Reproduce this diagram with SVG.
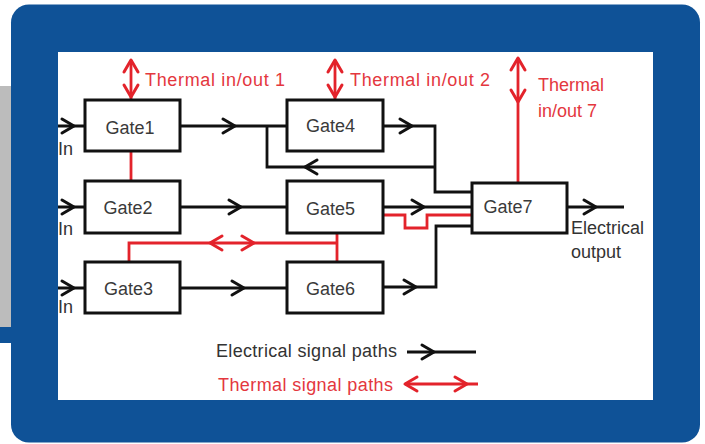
<svg xmlns="http://www.w3.org/2000/svg" xmlns:xlink="http://www.w3.org/1999/xlink" width="705" height="444" viewBox="0 0 705 444">
<style>
.box{fill:#fff;stroke:#111;stroke-width:3}
.el{fill:none;stroke:#111;stroke-width:2.8;stroke-linejoin:miter}
.th{fill:none;stroke:#e3232b;stroke-width:2.8}
.chk{fill:none;stroke:#111;stroke-width:3;stroke-linecap:round;stroke-linejoin:round}
.chr{fill:none;stroke:#e3232b;stroke-width:3;stroke-linecap:round;stroke-linejoin:round}
text{font-family:"Liberation Sans",Arial,sans-serif;font-size:18px}
.gt{fill:#3a3a3a;text-anchor:middle}
.dk{fill:#333}
.rd{fill:#e4373e}
</style>
<defs>
<path id="chev" d="M-12,-7 L0,0 L-12,7"/>
</defs>
<rect x="0" y="0" width="705" height="444" fill="#fff"/>
<rect x="0" y="86" width="14" height="241" fill="#bcbcbc"/>
<rect x="0" y="327" width="14" height="16" fill="#0f5297"/>
<rect x="11" y="4.5" width="689" height="438" rx="18" fill="#0f5297"/>
<rect x="58" y="52" width="595" height="348" fill="#fff"/>

<g id="connectors">
  <!-- inputs -->
  <path class="el" d="M58,126 H85 M58,207 H85 M58,288 H85"/>
  <use href="#chev" class="chk" transform="translate(74,126)"/>
  <use href="#chev" class="chk" transform="translate(74,207)"/>
  <use href="#chev" class="chk" transform="translate(74,288)"/>
  <!-- Gate1 -> Gate4 -->
  <path class="el" d="M180,126 H287"/>
  <use href="#chev" class="chk" transform="translate(235,126)"/>
  <!-- Gate2 -> Gate5 -->
  <path class="el" d="M180,207 H287"/>
  <use href="#chev" class="chk" transform="translate(241,207)"/>
  <!-- Gate3 -> Gate6 -->
  <path class="el" d="M180,288 H287"/>
  <use href="#chev" class="chk" transform="translate(244,288)"/>
  <!-- Gate4 -> Gate7 and feedback -->
  <path class="el" d="M383,126 H435 V192 H472"/>
  <use href="#chev" class="chk" transform="translate(412,126)"/>
  <path class="el" d="M435,167 H267 V126"/>
  <use href="#chev" class="chk" transform="translate(305,167) rotate(180)"/>
  <!-- Gate5 -> Gate7 -->
  <path class="el" d="M383,207 H472"/>
  <use href="#chev" class="chk" transform="translate(424,207)"/>
  <!-- Gate6 -> Gate7 -->
  <path class="el" d="M383,287 H436 V226 H472"/>
  <use href="#chev" class="chk" transform="translate(416,287)"/>
  <!-- Gate7 output -->
  <path class="el" d="M567,207 H624"/>
  <use href="#chev" class="chk" transform="translate(596,207)"/>

  <!-- thermal paths -->
  <path class="th" d="M131,151 V181"/>
  <path class="th" d="M131,60 V100"/>
  <use href="#chev" class="chr" transform="translate(131,60) rotate(-90)"/>
  <use href="#chev" class="chr" transform="translate(131,97) rotate(90)"/>
  <path class="th" d="M335,60 V100"/>
  <use href="#chev" class="chr" transform="translate(335,60) rotate(-90)"/>
  <use href="#chev" class="chr" transform="translate(335,97) rotate(90)"/>
  <path class="th" d="M518,58 V183"/>
  <use href="#chev" class="chr" transform="translate(518,58) rotate(-90)"/>
  <use href="#chev" class="chr" transform="translate(518,102) rotate(90)"/>
  <path class="th" d="M129,262 V243 H337 M337,233 V262"/>
  <use href="#chev" class="chr" transform="translate(210,243) rotate(180)"/>
  <use href="#chev" class="chr" transform="translate(254,243)"/>
  <path class="th" d="M383,215 H405 V228 H427 V215 H472"/>
</g>

<g id="gate1"><rect class="box" x="85" y="100" width="95" height="51"/><text class="gt" x="130" y="134">Gate1</text></g>
<g id="gate2"><rect class="box" x="85" y="181" width="95" height="52"/><text class="gt" x="128" y="214">Gate2</text></g>
<g id="gate3"><rect class="box" x="85" y="262" width="95" height="51"/><text class="gt" x="128.5" y="295">Gate3</text></g>
<g id="gate4"><rect class="box" x="287" y="100" width="96" height="51"/><text class="gt" x="330.5" y="132">Gate4</text></g>
<g id="gate5"><rect class="box" x="287" y="181" width="96" height="52"/><text class="gt" x="330.5" y="215">Gate5</text></g>
<g id="gate6"><rect class="box" x="287" y="262" width="96" height="51"/><text class="gt" x="330.5" y="295">Gate6</text></g>
<g id="gate7"><rect class="box" x="472" y="183" width="95" height="50"/><text class="gt" x="508" y="213">Gate7</text></g>

<g id="labels">
  <text class="dk" x="58" y="155">In</text>
  <text class="dk" x="58" y="235">In</text>
  <text class="dk" x="58" y="313">In</text>
  <text class="rd" x="145" y="86" font-size="19" textLength="140">Thermal in/out 1</text>
  <text class="rd" x="350" y="86" font-size="19" textLength="140">Thermal in/out 2</text>
  <text class="rd" x="538" y="91">Thermal</text>
  <text class="rd" x="538" y="117">in/out 7</text>
  <text class="dk" x="571" y="234">Electrical</text>
  <text class="dk" x="571" y="258">output</text>
</g>

<g id="legend">
  <text class="dk" x="216" y="357" textLength="181">Electrical signal paths</text>
  <path class="el" d="M407,352 H476"/>
  <use href="#chev" class="chk" transform="translate(434,352)"/>
  <text class="rd" x="218" y="391" textLength="175">Thermal signal paths</text>
  <path class="th" d="M405,384 H478"/>
  <use href="#chev" class="chr" transform="translate(405,384) rotate(180)"/>
  <use href="#chev" class="chr" transform="translate(467,384)"/>
</g>
</svg>
